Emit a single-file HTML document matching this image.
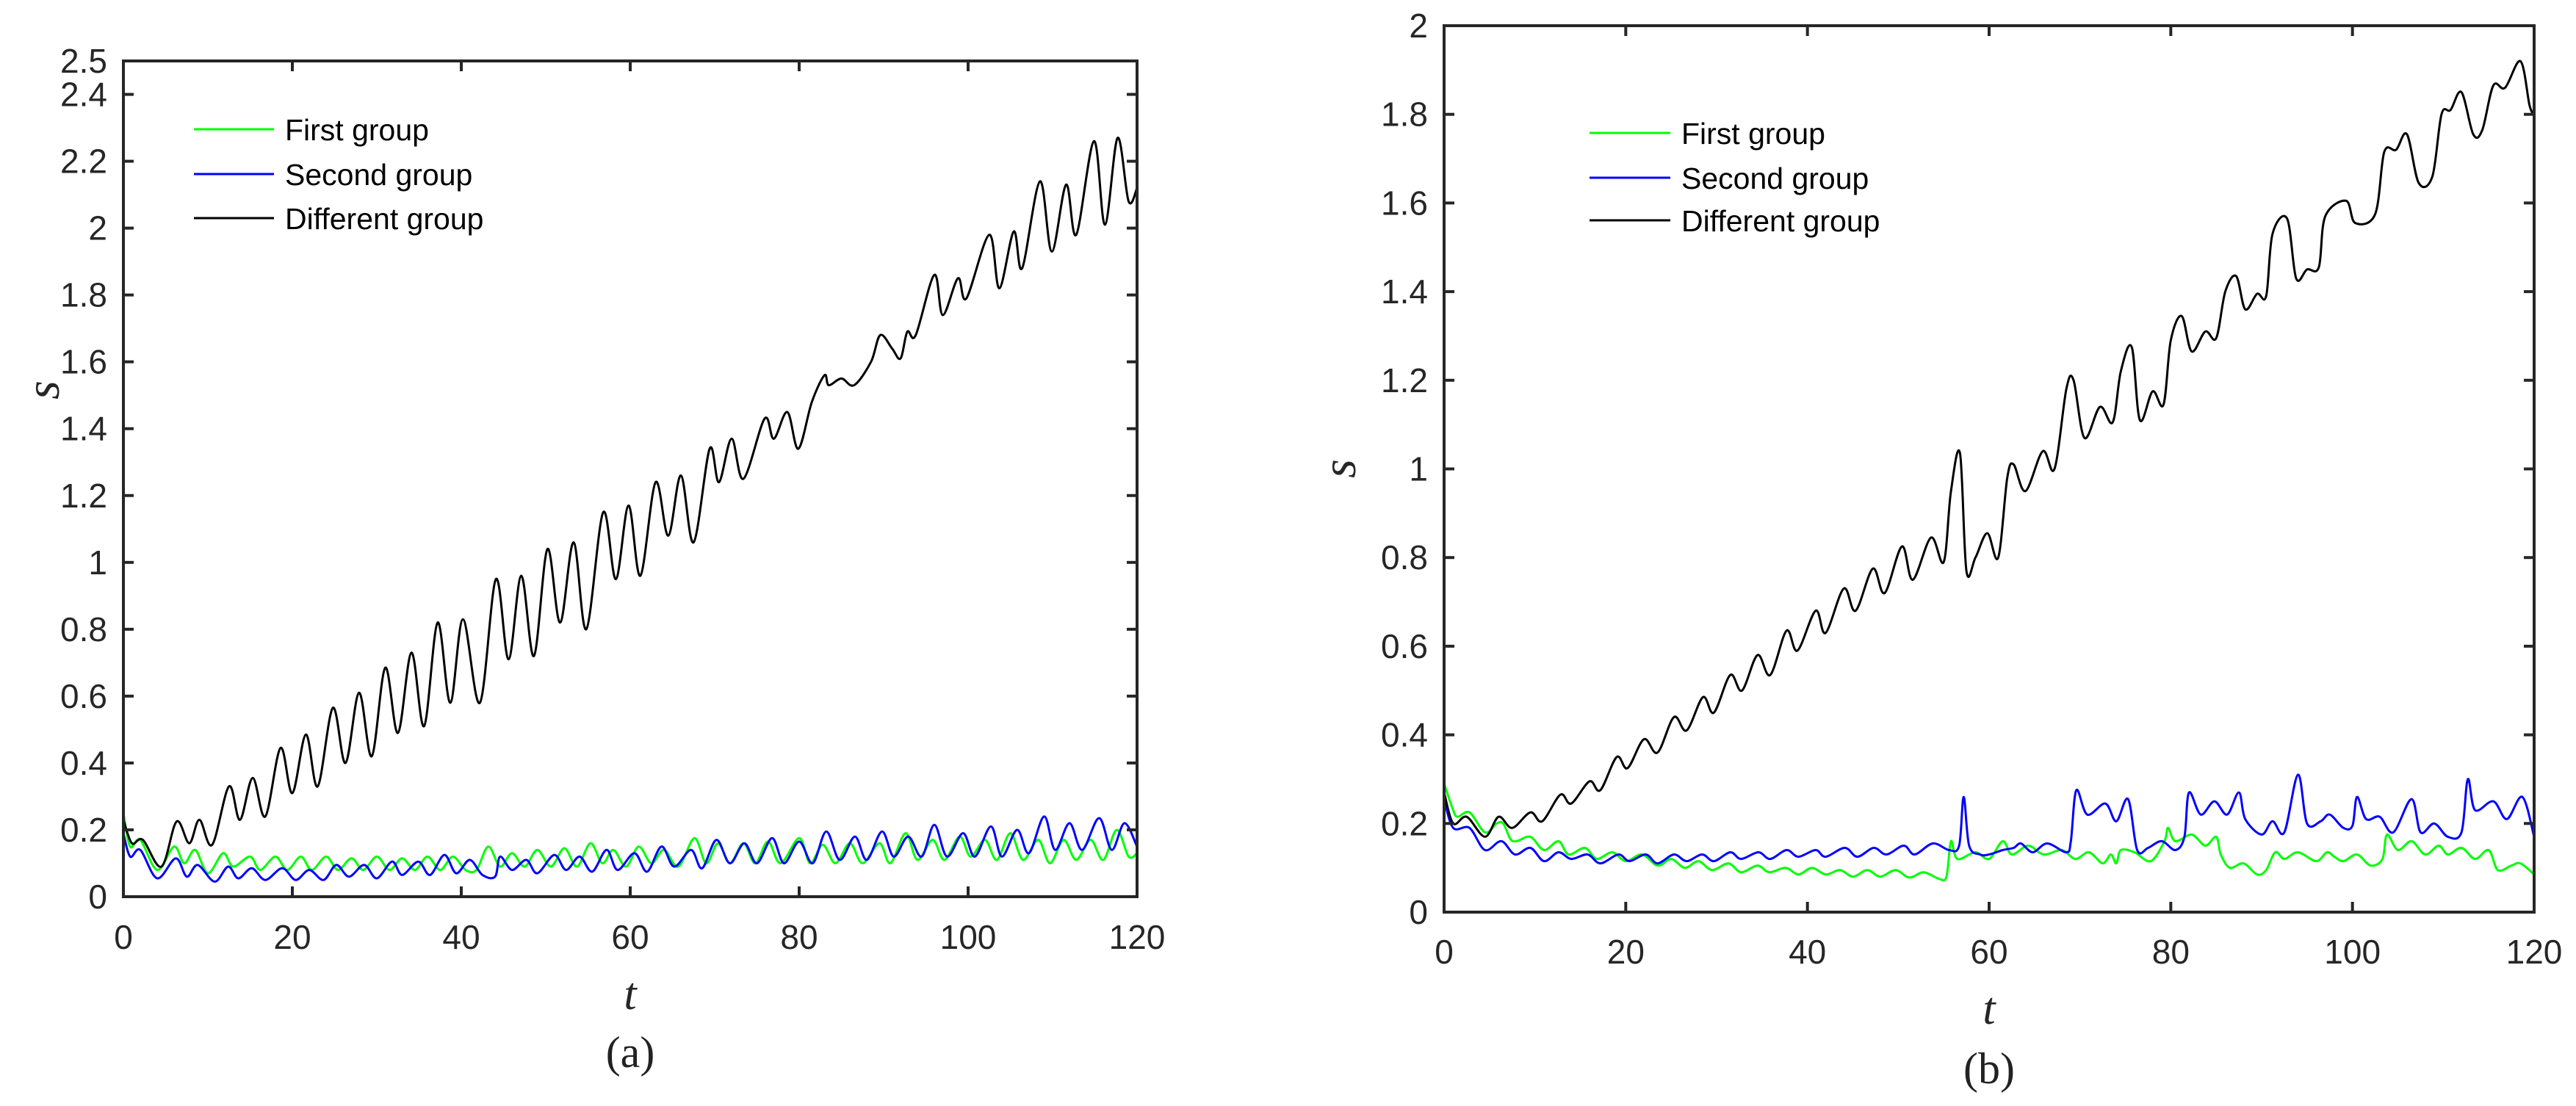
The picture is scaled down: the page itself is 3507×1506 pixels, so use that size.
<!DOCTYPE html>
<html><head><meta charset="utf-8"><style>
html,body{margin:0;padding:0;background:#fff;}
svg{display:block;}
</style></head><body>
<svg id="chart" width="3507" height="1506" viewBox="0 0 3507 1506" xmlns="http://www.w3.org/2000/svg">
<rect width="3507" height="1506" fill="#fff"/>
</svg>
<script>
// ---------- Panel (a) data ----------
const aBlackT=[0,1,2.3,4.5,6.3,7.8,9,10.5,12.5,13.8,15.3,16.8,18.6,20,21.6,23,24.8,26.3,27.9,29.4,31,32.5,34.1,35.6,37.2,38.7,40.2,42.2,44.1,45.6,47.1,48.6,50.2,51.7,53.3,54.8,56.8,58.3,59.8,61.2,63,64.5,66,67.5,69.4,70.5,72,73.4,75.9,77,78.6,79.9,81.5,83,83.5,85,86.5,88.5,89.6,91,92,92.8,93.8,96,97,98.8,99.8,102.5,103.7,105.4,106.4,108.5,109.9,111.6,112.8,114.9,116.2,117.7,119,120];
const aBlackS=[0.23,0.16,0.17,0.09,0.225,0.16,0.23,0.155,0.33,0.23,0.355,0.24,0.445,0.31,0.485,0.33,0.565,0.40,0.61,0.42,0.685,0.49,0.73,0.51,0.82,0.58,0.83,0.58,0.95,0.71,0.96,0.72,1.04,0.82,1.06,0.80,1.15,0.95,1.17,0.96,1.24,1.08,1.26,1.06,1.34,1.24,1.37,1.25,1.43,1.37,1.45,1.34,1.48,1.56,1.53,1.55,1.53,1.6,1.68,1.64,1.61,1.69,1.68,1.86,1.74,1.85,1.79,1.98,1.82,1.99,1.88,2.14,1.93,2.13,1.98,2.26,2.01,2.27,2.08,2.12];
const aGreenT=[0,0.8,2,4,6,7.2,8.5,10,11.8,13,15,16.2,18,19.4,21,22.3,24,25.4,27,28.4,30,31.5,33,34.5,36,37.5,39,40.5,41.8,43.2,44.6,46,47.5,49,50.6,52.2,53.7,55.3,56.7,58,59.5,61,62.5,64,65.7,67.6,69,70.4,71.8,73.4,74.8,76.3,77.8,80,81.3,82.8,84.3,86,87.5,89.5,90.8,92.6,94,95.8,97.2,99,100.3,102,103.4,105,106.5,108.3,109.7,111.3,112.8,114.5,116,117.6,119,120];
const aGreenS=[0.25,0.15,0.17,0.08,0.15,0.10,0.14,0.07,0.13,0.09,0.12,0.08,0.12,0.08,0.12,0.08,0.12,0.08,0.115,0.08,0.12,0.08,0.115,0.08,0.12,0.08,0.12,0.08,0.08,0.15,0.09,0.13,0.09,0.14,0.09,0.145,0.09,0.16,0.10,0.14,0.09,0.15,0.10,0.14,0.09,0.175,0.10,0.16,0.10,0.16,0.10,0.165,0.10,0.175,0.10,0.155,0.10,0.16,0.10,0.16,0.10,0.19,0.11,0.17,0.11,0.18,0.12,0.17,0.11,0.19,0.11,0.17,0.10,0.17,0.11,0.17,0.11,0.20,0.12,0.13];
const aBlueT=[0,0.8,2,4,6.2,7.5,8.8,10.8,12.4,13.6,15.2,16.8,18.8,20.4,22,23.7,25.2,26.7,28.5,30,31.8,33,34.9,36.3,38,39.4,41,42.5,44,44.6,46,47.7,49,51,52.4,54,55.5,57.2,58.5,60.5,62,63.7,65.2,67.2,68.5,70.2,71.8,73.5,75,76.8,78.2,80,81.6,83.2,84.8,86.6,88,89.8,91.2,92.9,94.5,96,97.5,99.4,100.8,102.7,104,105.8,107.2,109,110.3,112,113.5,115.5,117,118.5,120];
const aBlueS=[0.19,0.12,0.14,0.055,0.115,0.06,0.095,0.045,0.09,0.055,0.085,0.05,0.085,0.05,0.08,0.05,0.095,0.06,0.095,0.055,0.105,0.065,0.105,0.065,0.125,0.07,0.11,0.065,0.06,0.12,0.08,0.11,0.07,0.125,0.08,0.12,0.075,0.14,0.08,0.13,0.075,0.15,0.09,0.14,0.085,0.17,0.10,0.16,0.10,0.175,0.10,0.165,0.10,0.195,0.11,0.18,0.11,0.195,0.12,0.18,0.12,0.215,0.12,0.19,0.12,0.21,0.12,0.20,0.13,0.24,0.14,0.22,0.14,0.235,0.14,0.22,0.15];
const aXTicks=[0,20,40,60,80,100,120];
const aXTickLabels=["0","20","40","60","80","100","120"];
const aYTicks=[0,0.2,0.4,0.6,0.8,1,1.2,1.4,1.6,1.8,2,2.2,2.4,2.5];
const aYTickLabels=["0","0.2","0.4","0.6","0.8","1","1.2","1.4","1.6","1.8","2","2.2","2.4","2.5"];

// ---------- Panel (b) data ----------
const bBlackT=[0,1,2.5,4.5,6,7.5,9.5,10.8,12.8,14,16,17.2,19,20.2,22,23.5,25.3,26.7,28.5,29.7,31.5,32.8,34.5,35.9,37.7,38.9,40.9,42,44,45.3,47.2,48.5,50.4,51.6,53.6,55,55.8,56.8,57.5,58.5,59.8,61,62,62.7,64,65.9,67.2,68.5,69.3,70.5,72.2,73.6,74.5,75.7,76.6,78,79.2,80,81.2,82.3,83.8,85,86,87.2,88.2,89.5,90.5,91.2,92.8,93.8,95,96.3,97,99.3,100.3,102.5,103.5,104.8,106,107.3,108.8,109.8,110.8,112,113.3,114.3,115.5,116.8,118.5,119.5,120];
const bBlackS=[0.27,0.2,0.215,0.17,0.215,0.19,0.225,0.205,0.265,0.245,0.295,0.275,0.35,0.325,0.39,0.36,0.44,0.41,0.485,0.45,0.535,0.50,0.58,0.535,0.635,0.59,0.68,0.63,0.73,0.68,0.775,0.72,0.825,0.75,0.845,0.79,0.95,1.035,0.77,0.80,0.855,0.80,0.98,1.01,0.95,1.04,1.00,1.18,1.20,1.07,1.14,1.105,1.22,1.275,1.11,1.175,1.145,1.29,1.345,1.265,1.31,1.295,1.40,1.435,1.36,1.395,1.39,1.53,1.565,1.43,1.45,1.455,1.57,1.605,1.555,1.575,1.715,1.72,1.755,1.645,1.66,1.80,1.81,1.85,1.755,1.765,1.865,1.86,1.92,1.82,1.80];
const bGreenT=[0,1,1.5,2.8,4.5,5.8,6.5,7.3,8,9.5,11,12.6,13.7,15.5,16.8,18.5,20,21.8,23.5,25,26.5,28,29.5,31.3,32.7,34.5,35.8,37.6,39,40.5,42,43.6,45,46.6,48,49.7,51.2,52.8,54.5,55.3,55.8,56.5,58.5,60,61.5,62.5,64.3,66,68,69.5,71,72.5,73.4,74,74.5,76,77.8,79.3,79.7,80.5,82.3,83.8,85,85.5,86.5,88,89.5,90.5,91.5,92.5,94,96,97.2,98,99,100.5,102,103.3,103.8,105,106.5,108,109.5,110.5,112,113.5,115,116,117.5,118.5,120];
const bGreenS=[0.29,0.23,0.215,0.225,0.18,0.2,0.2,0.165,0.16,0.17,0.14,0.16,0.13,0.145,0.12,0.135,0.115,0.13,0.105,0.12,0.1,0.115,0.095,0.11,0.09,0.105,0.09,0.1,0.085,0.1,0.085,0.095,0.08,0.095,0.08,0.095,0.078,0.09,0.075,0.08,0.16,0.12,0.135,0.12,0.16,0.13,0.15,0.13,0.14,0.12,0.135,0.11,0.13,0.11,0.14,0.135,0.115,0.16,0.19,0.16,0.175,0.15,0.17,0.13,0.10,0.11,0.085,0.095,0.135,0.12,0.135,0.115,0.135,0.125,0.115,0.13,0.105,0.12,0.175,0.14,0.16,0.13,0.15,0.13,0.145,0.12,0.14,0.095,0.105,0.11,0.085];
const bBlueT=[0,1,2.8,4.5,6.3,7.8,9.5,11,12.6,14,15.8,17.2,19.2,20.4,22.2,23.5,25.3,26.7,28.4,29.7,31.5,32.7,34.6,35.9,37.7,39,40.9,42,44.1,45.5,47.3,48.7,50.6,51.8,53.8,55.6,56.7,57.2,57.8,59,60,61.5,62.7,63.5,64.8,66.4,68.5,69,69.6,70.8,72.8,74,75.3,76.3,77.5,79,80.5,81.5,82,83.3,84.8,86.2,87.5,88.2,90,91.2,92.5,94,95,96.5,97.5,99,100,100.5,101.5,103,104.5,106.5,107.5,109,110.5,112,112.7,113.5,115.5,117,118.7,120];
const bBlueS=[0.255,0.19,0.19,0.14,0.16,0.13,0.145,0.115,0.135,0.12,0.13,0.11,0.13,0.115,0.13,0.11,0.13,0.115,0.13,0.115,0.135,0.12,0.135,0.12,0.14,0.125,0.14,0.125,0.145,0.125,0.145,0.13,0.15,0.13,0.155,0.14,0.15,0.26,0.15,0.13,0.13,0.14,0.145,0.155,0.135,0.155,0.135,0.16,0.275,0.22,0.245,0.205,0.255,0.14,0.145,0.16,0.14,0.17,0.27,0.22,0.25,0.22,0.27,0.21,0.175,0.205,0.18,0.31,0.2,0.205,0.22,0.19,0.195,0.26,0.21,0.215,0.18,0.255,0.18,0.2,0.17,0.18,0.3,0.23,0.25,0.21,0.26,0.17];
const bXTicks=[0,20,40,60,80,100,120];
const bXTickLabels=["0","20","40","60","80","100","120"];
const bYTicks=[0,0.2,0.4,0.6,0.8,1,1.2,1.4,1.6,1.8,2];
const bYTickLabels=["0","0.2","0.4","0.6","0.8","1","1.2","1.4","1.6","1.8","2"];

const legendLabels=["First group","Second group","Different group"];
const seriesColors=["#00ff00","#0000ff","#000000"];

const NS="http://www.w3.org/2000/svg";
const svg=document.getElementById('chart');
function mk(tag,attrs,parent){const e=document.createElementNS(NS,tag);for(const k in attrs)e.setAttribute(k,attrs[k]);(parent||svg).appendChild(e);return e;}

function smoothPath(px,py){
  let d="M"+px[0].toFixed(1)+","+py[0].toFixed(1);
  for(let i=0;i<px.length-1;i++){
    const x0=px[Math.max(0,i-1)],y0=py[Math.max(0,i-1)];
    const x1=px[i],y1=py[i],x2=px[i+1],y2=py[i+1];
    const x3=px[Math.min(px.length-1,i+2)],y3=py[Math.min(px.length-1,i+2)];
    const c1x=x1+(x2-x0)/6,c1y=y1+(y2-y0)/6,c2x=x2-(x3-x1)/6,c2y=y2-(y3-y1)/6;
    d+=" C"+c1x.toFixed(1)+","+c1y.toFixed(1)+" "+c2x.toFixed(1)+","+c2y.toFixed(1)+" "+x2.toFixed(1)+","+y2.toFixed(1);
  }
  return d;
}

function panel(cfg){
  const g=mk('g',{});
  
  
  const X=t=>cfg.L+(t-0)/(120-0)*(cfg.R-cfg.L);
  const Y=s=>cfg.B-(s-0)/(cfg.ymax-0)*(cfg.B-cfg.T);
  const clip=mk('clipPath',{id:cfg.name+'-clip'},g);
  mk('rect',{x:cfg.L,y:cfg.T,width:cfg.R-cfg.L,height:cfg.B-cfg.T},clip);
  const sg=mk('g',{'clip-path':'url(#'+cfg.name+'-clip)'},g);
  cfg.series.forEach((sr,i)=>{
    const p=mk('path',{d:smoothPath(sr.t.map(X),sr.s.map(Y)),fill:'none',stroke:seriesColors[i],'stroke-width':3,'stroke-linejoin':'round'},sg);
    
    
  });
  const fr=mk('rect',{x:cfg.L,y:cfg.T,width:cfg.R-cfg.L,height:cfg.B-cfg.T,fill:'none',stroke:'#262626','stroke-width':4},g);
  
  
  cfg.xt.forEach((v,i)=>{
    const x=X(v);
    mk('line',{x1:x,y1:cfg.B,x2:x,y2:cfg.B-14,stroke:'#262626','stroke-width':4},g);
    mk('line',{x1:x,y1:cfg.T,x2:x,y2:cfg.T+14,stroke:'#262626','stroke-width':4},g);
    const tx=mk('text',{x:x,y:cfg.xly,'text-anchor':'middle','font-family':'Liberation Sans, sans-serif','font-size':46,fill:'#262626'},g);
    tx.textContent=cfg.xtl[i];
    
    
  });
  cfg.yt.forEach((v,i)=>{
    const y=Y(v);
    mk('line',{x1:cfg.L,y1:y,x2:cfg.L+14,y2:y,stroke:'#262626','stroke-width':4},g);
    mk('line',{x1:cfg.R,y1:y,x2:cfg.R-14,y2:y,stroke:'#262626','stroke-width':4},g);
    const ty=mk('text',{x:cfg.L-22,y:y+16,'text-anchor':'end','font-family':'Liberation Sans, sans-serif','font-size':46,fill:'#262626'},g);
    ty.textContent=cfg.ytl[i];
    
    
  });
  const xt=mk('text',{x:(cfg.L+cfg.R)/2,y:cfg.tY,'text-anchor':'middle','font-family':'Liberation Serif, serif','font-style':'italic','font-size':62,fill:'#262626'},g);
  xt.textContent='t';
  
  
  const yt=mk('text',{x:0,y:0,'text-anchor':'middle','font-family':'Liberation Serif, serif','font-style':'italic','font-size':66,fill:'#262626',transform:'translate('+cfg.sX+','+cfg.sY+') rotate(-90)'},g);
  yt.textContent='s';
  
  
  const cap=mk('text',{x:(cfg.L+cfg.R)/2,y:cfg.capY,'text-anchor':'middle','font-family':'Liberation Serif, serif','font-size':60,fill:'#222'},g);
  cap.textContent=cfg.cap;
  
  
  const lg=mk('g',{},g);
  
  
  legendLabels.forEach((lab,i)=>{
    const y=cfg.legY[i];
    const e=mk('g',{},lg);
    
    
    mk('line',{x1:cfg.legX1,y1:y,x2:cfg.legX2,y2:y,stroke:seriesColors[i],'stroke-width':3},e);
    const t=mk('text',{x:cfg.legTX,y:y+15,'font-family':'Liberation Sans, sans-serif','font-size':41,fill:'#000'},e);
    t.textContent=lab;
  });
}

panel({name:'panel-a',L:168,R:1548,T:83,B:1221,ymax:2.5,
  series:[{name:'first-group-line',t:aGreenT,s:aGreenS},{name:'second-group-line',t:aBlueT,s:aBlueS},{name:'different-group-line',t:aBlackT,s:aBlackS}],
  xt:aXTicks,xtl:aXTickLabels,yt:aYTicks,ytl:aYTickLabels,xly:1292,tY:1374,sX:80,sY:531,capY:1453,cap:'(a)',
  legY:[176,237,297],legX1:264,legX2:373,legTX:388});
panel({name:'panel-b',L:1966,R:3450,T:35,B:1242,ymax:2,
  series:[{name:'first-group-line',t:bGreenT,s:bGreenS},{name:'second-group-line',t:bBlueT,s:bBlueS},{name:'different-group-line',t:bBlackT,s:bBlackS}],
  xt:bXTicks,xtl:bXTickLabels,yt:bYTicks,ytl:bYTickLabels,xly:1312,tY:1394,sX:1845,sY:638,capY:1475,cap:'(b)',
  legY:[181,242,300],legX1:2164,legX2:2274,legTX:2289});
</script>
</body></html>
